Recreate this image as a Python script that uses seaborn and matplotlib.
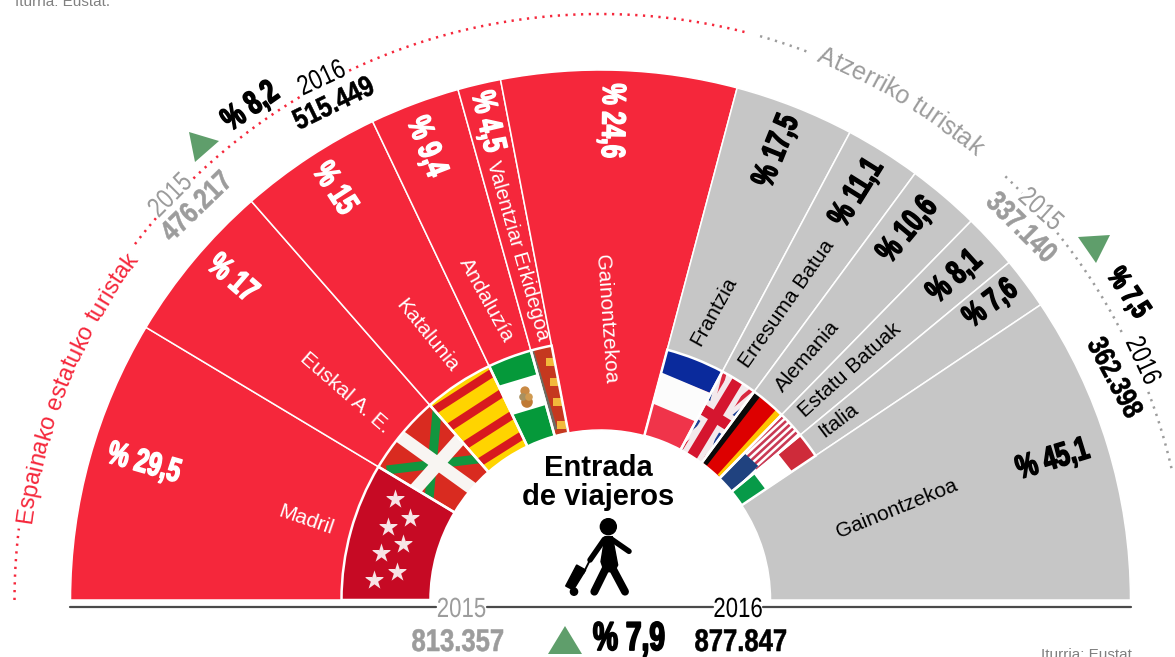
import numpy as np
import matplotlib
matplotlib.use("Agg")
import matplotlib.pyplot as plt
from matplotlib.patches import Polygon, Circle, Wedge
from matplotlib.font_manager import FontProperties
from matplotlib.transforms import Affine2D
import matplotlib.patheffects as pe
import seaborn as sns

# data
total_2015 = 813357
total_2016 = 877847
esp_2015 = 476217
esp_2016 = 515449
atz_2015 = 337140
atz_2016 = 362398

# share of the half ring each group really takes in the picture
esp_share = 58.3
atz_share = 41.7

esp_names = ["Madril", "Euskal A. E.", "Katalunia", "Andaluzía", "Valentziar Erkidegoa", "Gainontzekoa"]
esp_pct = [29.5, 17, 15, 9.4, 4.5, 24.6]
atz_names = ["Frantzia", "Erresuma Batua", "Alemania", "Estatu Batuak", "Italia", "Gainontzekoa"]
atz_pct = [17.5, 11.1, 10.6, 8.1, 7.6, 45.1]

RED = "#F5273B"
GREY = "#C6C6C6"
TXT_GREY = "#9C9C9C"
GREEN = "#5F9E6B"
CX, CY = 600.5, 600
R_OUT, R_FLAG, R_IN = 530, 259, 170

sns.set_theme(style="white")
plt.rcParams["font.family"] = ["Liberation Sans", "DejaVu Sans"]


class Squeeze(pe.AbstractPathEffect):
    # no condensed font here, so the text is narrowed and thickened when drawn
    def __init__(self, sx, extra=0.0):
        super().__init__()
        self.sx = sx
        self.extra = extra

    def draw_path(self, renderer, gc, tpath, affine, rgbFace=None):
        box = tpath.get_extents()
        mid = (box.x0 + box.x1) / 2
        aff = Affine2D().translate(-mid, 0).scale(self.sx, 1).translate(mid, 0) + affine
        gc0 = renderer.new_gc()
        gc0.copy_properties(gc)
        gc0.set_foreground(rgbFace)
        gc0.set_linewidth(self.extra)
        renderer.draw_path(gc0, tpath, aff, rgbFace)
        gc0.restore()


fig = plt.figure(figsize=(11.75, 6.57), dpi=100)
ax = fig.add_axes([0, 0, 1, 1])

sizes = [esp_share * p / 100 for p in esp_pct] + [atz_share * p / 100 for p in atz_pct] + [100]
colors = [RED] * 6 + [GREY] * 6 + ["none"]

# y axis runs downward so the axes work in picture pixels; the pie goes clockwise from the left
wedges, _ = ax.pie(sizes, colors=colors, startangle=180, counterclock=True, center=(CX, CY), radius=R_OUT,
                   wedgeprops=dict(width=R_OUT - R_IN, edgecolor="white", linewidth=1.1))
wedges[-1].set_edgecolor("none")

flag_bg = ["#C60A24", "#D92B20", "#FFD400", "#05993A", "#C5381F", "none",
           "#F0344A", "#1B3F94", "#DD0000", "#FFFFFF", "#FFFFFF", "none"]
rings, _ = ax.pie(sizes, colors=flag_bg + ["none"], startangle=180, counterclock=True, center=(CX, CY), radius=R_FLAG,
                  wedgeprops=dict(width=R_FLAG - R_IN, edgecolor="none"))

ax.set_xlim(0, 1175)
ax.set_ylim(657, 0)
ax.set_aspect("equal")
ax.axis("off")
sns.despine(ax=ax, left=True, bottom=True)


def stroke(clip, p0, p1, color, w):
    # straight band, w is in picture pixels
    ln, = ax.plot([p0[0], p1[0]], [p0[1], p1[1]], color=color, lw=w * 0.72, solid_capstyle="butt", zorder=3)
    ln.set_clip_path(clip)


def poly(clip, pts, color):
    p = Polygon(pts, closed=True, facecolor=color, edgecolor="none", zorder=3)
    ax.add_patch(p)
    p.set_clip_path(clip)


def zl(x, y):
    return (330 + x / 3, 330 + y / 3)


def zr(x, y):
    return (630 + x / 3, 330 + y / 3)


# Madrid
star_x = [395, 410, 388, 403, 381, 397, 374]
star_y = [499, 518, 527, 544, 553, 572, 580]
st = ax.scatter(star_x, star_y, marker="*", s=210, color="#F7E4E6", linewidths=0, zorder=4)
st.set_clip_path(rings[0])

# Euskadi
for a, b in [((170, 420), (460, 385)), ((325, 200), (295, 530))]:
    stroke(rings[1], zl(*a), zl(*b), "#12963F", 9)
for a, b in [((190, 305), (440, 485)), ((245, 490), (410, 305))]:
    stroke(rings[1], zl(*a), zl(*b), "#F8F5F2", 13)

# Catalunya
for a, b in [((290, 255), (500, 120)), ((330, 310), (530, 180)), ((375, 365), (570, 240)), ((420, 415), (610, 295))]:
    stroke(rings[2], zl(*a), zl(*b), "#D8191F", 8.5)

# Andalucia
stroke(rings[3], zl(480, 225), zl(680, 165), "#FFFFFF", 32)
ax.scatter([525, 527, 523, 529], [391, 402, 397, 397], s=[45, 70, 30, 30],
           color=["#C98A45", "#C07A35", "#A89060", "#D09A50"], linewidths=0, zorder=4)

# Valencia
stroke(rings[4], zl(600, 60), zl(672, 300), "#6C6B60", 7)
for x, y in [(660, 95), (672, 155), (683, 215), (694, 285)]:
    stroke(rings[4], zl(x - 13, y), zl(x + 13, y), "#F2B93B", 8)

# France
stroke(rings[6], zr(90, 85), zr(290, 165), "#0A2A9C", 27)
stroke(rings[6], zr(60, 165), zr(250, 245), "#FCFCFC", 32)

# UK
for a, b in [((285, 125), (215, 395)), ((370, 175), (155, 355))]:
    stroke(rings[7], zr(*a), zr(*b), "#F3E9EC", 14)
for a, b in [((285, 125), (215, 395)), ((370, 175), (155, 355))]:
    stroke(rings[7], zr(*a), zr(*b), "#D9283F", 4)
stroke(rings[7], zr(327, 145), zr(185, 380), "#F3E9EC", 22)
stroke(rings[7], zr(205, 230), zr(310, 295), "#F3E9EC", 22)
stroke(rings[7], zr(327, 145), zr(185, 380), "#D5152F", 11)
stroke(rings[7], zr(205, 230), zr(310, 295), "#D5152F", 11)

# Germany
stroke(rings[8], zr(385, 175), zr(215, 395), "#0A0A0A", 13)
stroke(rings[8], zr(455, 245), zr(275, 445), "#FFC400", 11)

# USA
for i in range(5):
    stroke(rings[9], zr(335 + 11 * i, 375 + 11 * i), zr(465 + 11 * i, 255 + 11 * i), "#C93A55", 2.6)
poly(rings[9], [zr(262, 445), zr(338, 365), zr(385, 408), zr(305, 485)], "#20427F")

# Italy
poly(rings[10], [zr(300, 490), zr(370, 430), zr(408, 480), zr(335, 530)], "#079A48")
poly(rings[10], [zr(445, 372), zr(515, 308), zr(565, 370), zr(487, 425)], "#CE2B3A")

# white borders on top of the flags
for w in rings[:5] + rings[6:11]:
    ax.add_patch(Wedge((CX, CY), R_FLAG, w.theta1, w.theta2, width=R_FLAG - R_IN, facecolor="none",
                       edgecolor="white", linewidth=1.8, zorder=5))

# axis line under the half ring, broken for the two years
for x0, x1 in [(70, 436), (487, 713), (763, 1131)]:
    ax.plot([x0, x1], [607, 607], color="#4A4A4A", lw=1.6, zorder=2)


def heavy(x, y, s, size, rot, color="black", sx=0.72, extra=1.1):
    t = ax.text(x, y, s, fontsize=size, rotation=rot, color=color, fontweight="bold",
                ha="center", va="center", rotation_mode="anchor", zorder=6)
    t.set_path_effects([Squeeze(sx, extra)])
    return t


# percent labels
pct_x = [144, 232, 334, 426, 487, 611]
pct_y = [464, 279, 189, 147, 122, 121]
pct_rot = [-16, -41, -57, -69, -77, -91]
for i in range(6):
    heavy(pct_x[i], pct_y[i], "% " + f"{esp_pct[i]:g}".replace(".", ","), 24, pct_rot[i], "white")

pct_x = [777, 857, 908, 955, 991, 1053]
pct_y = [151, 193, 230, 277, 304, 460]
pct_rot = [68, 58, 50, 42, 37, 17]
for i in range(6):
    heavy(pct_x[i], pct_y[i], "% " + f"{atz_pct[i]:g}".replace(".", ","), 24 if i != 4 else 23, pct_rot[i])

# region names
lab_x = [306, 345, 427, 486, 518, 606]
lab_y = [520, 393, 336, 300, 251, 319]
lab_rot = [-19, -41, -51, -61, -74, -86]
for i in range(6):
    ax.text(lab_x[i], lab_y[i], esp_names[i], fontsize=14.6 if i == 4 else 15, color="white", rotation=lab_rot[i],
            ha="center", va="center", rotation_mode="anchor", zorder=6)

lab_x = [714, 787, 807, 850, 838, 897]
lab_y = [311, 304, 356, 370, 420, 509]
lab_rot = [61, 55, 49, 42, 37, 22]
for i in range(6):
    ax.text(lab_x[i], lab_y[i], atz_names[i], fontsize=15, color="black", rotation=lab_rot[i],
            ha="center", va="center", rotation_mode="anchor", zorder=6)


def arc_text(s, r, mid, size, color):
    # one letter at a time round the arc, letters measured with the renderer
    fp = FontProperties(family="Liberation Sans", size=size)
    rd = fig.canvas.get_renderer()
    width = lambda q: rd.get_text_width_height_descent(q, fp, False)[0] if q else 0
    total = width(s)
    for i, ch in enumerate(s):
        pos = (width(s[:i]) + width(s[:i + 1])) / 2
        a = np.deg2rad(mid) - (pos - total / 2) / r
        ax.text(CX + r * np.cos(a), CY - r * np.sin(a), ch, fontproperties=fp, color=color,
                rotation=np.rad2deg(a) - 90, ha="center", va="baseline", rotation_mode="anchor", zorder=6)


arc_text("Espainako estatuko turistak", 574, 158, 17, RED)
arc_text("Atzerriko turistak", 580, 59, 18, TXT_GREY)


def dotted(a0, a1, color):
    a = np.deg2rad(np.linspace(a0, a1, 200))
    ax.plot(CX + 586 * np.cos(a), CY - 586 * np.sin(a), color=color, lw=1.8, ls=(0, (0.9, 2.2)), zorder=2)


for a0, a1 in [(180, 173), (142.6, 139.2), (134, 120.5), (115.4, 75.3)]:
    dotted(a0, a1, RED)
for a0, a1 in [(74.2, 69.4), (46.3, 44), (38.8, 27), (20.8, 12.5)]:
    dotted(a0, a1, TXT_GREY)


def num(v):
    return f"{v:,}".replace(",", ".")


def year(x, y, s, rot, color):
    t = ax.text(x, y, s, fontsize=20, color=color, rotation=rot, ha="center", va="center",
                rotation_mode="anchor", zorder=6)
    t.set_path_effects([Squeeze(0.8)])


def total(x, y, v, rot, color="black", size=21):
    heavy(x, y, num(v), size, rot, color, sx=0.82, extra=0.4)


def up(pts):
    ax.add_patch(Polygon(pts, closed=True, facecolor=GREEN, edgecolor="none", zorder=6))


# Spanish tourists, totals
year(171, 196, "2015", 45, TXT_GREY)
total(197, 207, esp_2015, 44, TXT_GREY)
year(322, 79, "2016", 25, "black")
total(334, 104, esp_2016, 26)
heavy(251, 107, "% 8,2", 24, 35)
up([(189, 132), (219, 141), (195, 162)])

# foreign tourists, totals
year(1040, 210, "2015", -42, TXT_GREY)
total(1021, 228, atz_2015, -45, TXT_GREY)
year(1142, 361, "2016", -65, "black")
total(1114, 378, atz_2016, -62)
heavy(1128, 293, "% 7,5", 21, -56)
up([(1078, 237), (1110, 235), (1096, 263)])

# all travellers, totals
year(461.5, 610, "2015", 0, TXT_GREY)
year(738, 610, "2016", 0, "black")
total(458, 643, total_2015, 0, TXT_GREY, 22.5)
total(741, 643, total_2016, 0, "black", 22.5)
heavy(629, 639, "% 7,9", 29, 0, sx=0.7, extra=1.3)
up([(548, 654), (582, 654), (565, 626)])

ax.text(598, 468, "Entrada", fontsize=21, fontweight="bold", color="black", ha="center", va="center", zorder=6)
ax.text(598, 497, "de viajeros", fontsize=21, fontweight="bold", color="black", ha="center", va="center", zorder=6)


def zp(x, y):
    return (555 + x / 3, 510 + y / 3)


# person with a trolley case
ax.add_patch(Circle(zp(160, 50), 8, color="black", zorder=6))
ax.add_patch(Polygon([zp(150, 80), zp(172, 80), zp(188, 165), zp(178, 185), zp(148, 185), zp(138, 155)],
                     closed=True, color="black", zorder=6))
for a, b, w in [((170, 88), (222, 124), 4.6), ((148, 88), (105, 150), 4.6),
                ((155, 170), (118, 245), 6.6), ((170, 170), (210, 245), 6.6), ((105, 150), (85, 190), 1.6)]:
    p0, p1 = zp(*a), zp(*b)
    ax.plot([p0[0], p1[0]], [p0[1], p1[1]], color="black", lw=w * 0.72 * 1.2, solid_capstyle="round", zorder=6)
ax.add_patch(Polygon([zp(65, 165), zp(92, 180), zp(55, 240), zp(32, 228)], closed=True, color="black", zorder=6))
ax.add_patch(Circle(zp(57, 245), 3.6, color="black", zorder=6))

# source lines, cut by the picture edge in the original
ax.text(15, 6, "Iturria: Eustat.", fontsize=11, color="#808080", ha="left", va="baseline")
ax.text(1041, 659, "Iturria: Eustat", fontsize=11, color="#808080", ha="left", va="baseline")

fig.savefig("out.png", dpi=100)
